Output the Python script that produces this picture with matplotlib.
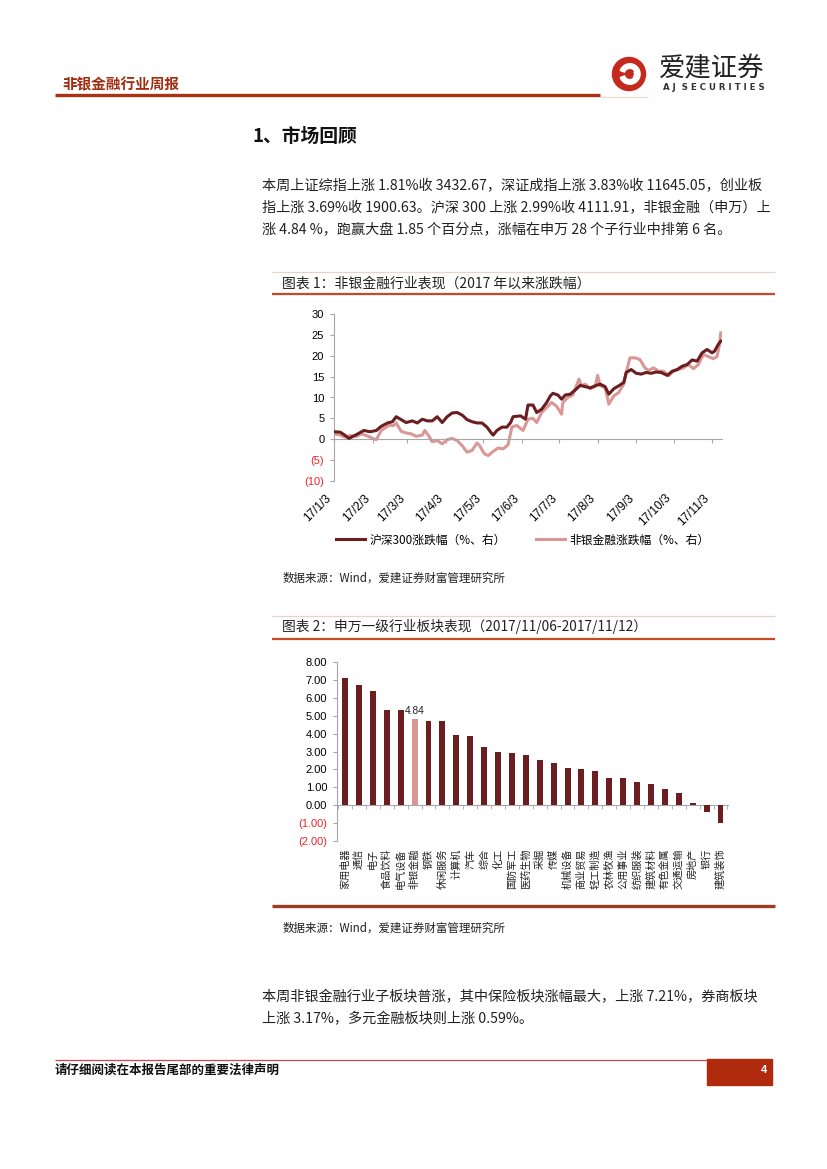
# 非银金融行业周报 - 第4页 复刻
import pandas as pd
import numpy as np
import matplotlib
matplotlib.use("Agg")
import matplotlib.pyplot as plt
from matplotlib.lines import Line2D
from matplotlib.patches import Rectangle, Circle, Wedge

plt.rcParams['font.family'] = ['Noto Sans CJK SC', 'DejaVu Sans']
plt.rcParams['axes.unicode_minus'] = False

W, H = 827, 1169

# ---------------- 数据 ----------------
# 图表1: 2017年以来涨跌幅 (距 2017-01-03 的天数, 数值%)
hs300_days = [0, 5, 9, 12, 18, 24, 29, 34, 38, 43, 47, 50, 54, 58, 63, 67, 71, 75, 79, 83,
              87, 91, 95, 99, 103, 107, 111, 115, 119, 123, 127, 128, 131, 135, 139, 142, 144,
              150, 154, 156, 160, 163, 167, 171, 174, 176, 180, 183, 186, 190, 194, 198, 202,
              206, 210, 214, 218, 221, 225, 229, 233, 235, 239, 243, 247, 251, 255, 259, 263,
              268, 272, 276, 280, 284, 288, 292, 296, 300, 304, 306, 309, 311]
hs300_vals = [1.8, 1.7, 0.9, 0.2, 1.1, 2.1, 1.8, 2.1, 3.1, 3.9, 4.2, 5.4, 4.7, 4.0, 4.4, 3.9,
              4.8, 4.4, 4.4, 5.4, 4.0, 5.4, 6.3, 6.4, 5.8, 4.7, 4.2, 3.9, 3.9, 2.9, 1.3, 1.0,
              2.1, 2.9, 2.9, 4.0, 5.4, 5.6, 4.8, 8.2, 8.2, 6.4, 7.2, 8.8, 10.4, 11.0, 10.6, 9.6,
              10.6, 10.8, 11.8, 12.9, 12.6, 12.3, 12.8, 13.2, 12.6, 10.8, 12.1, 12.8, 13.6,
              16.0, 16.7, 15.8, 15.6, 16.0, 15.8, 16.1, 16.0, 15.3, 16.3, 16.7, 17.5, 17.9,
              19.0, 18.7, 20.7, 21.5, 20.7, 21.1, 22.7, 23.5]

fin_days = [0, 5, 9, 13, 18, 22, 26, 32, 34, 38, 44, 48, 50, 54, 58, 62, 66, 71, 73, 76, 79,
            83, 87, 91, 95, 99, 103, 107, 111, 115, 117, 121, 124, 128, 132, 136, 140, 143,
            147, 152, 156, 160, 163, 167, 171, 175, 179, 183, 184, 188, 192, 197, 199, 202,
            206, 210, 212, 214, 218, 221, 225, 229, 233, 235, 238, 242, 246, 250, 253, 257,
            261, 265, 269, 273, 277, 281, 285, 289, 293, 297, 301, 305, 308, 310, 311]
fin_vals = [1.3, 1.0, 0.5, 0.9, 0.7, 1.3, 0.9, 0.1, -0.1, 2.1, 3.3, 3.3, 3.9, 1.9, 1.5, 1.3,
            0.7, 1.0, 2.1, 0.9, -0.6, -0.3, -1.1, -0.1, 0.2, -0.3, -1.5, -3.1, -2.7, -0.9,
            -1.5, -3.5, -3.9, -2.9, -2.1, -2.3, -1.3, 2.9, 3.3, 2.1, 4.8, 5.0, 4.0, 6.4, 7.6,
            8.8, 7.9, 6.0, 8.8, 10.0, 10.6, 14.4, 12.8, 13.2, 12.1, 12.6, 15.3, 12.8, 12.4,
            8.4, 10.4, 11.2, 13.2, 16.0, 19.5, 19.5, 19.1, 17.1, 16.5, 17.1, 16.3, 16.3, 15.2,
            16.3, 16.7, 17.1, 17.9, 16.9, 17.9, 20.3, 19.8, 19.3, 19.8, 22.7, 25.5]

month_ticks = ['2017-01-03', '2017-02-03', '2017-03-03', '2017-04-03', '2017-05-03', '2017-06-03',
               '2017-07-03', '2017-08-03', '2017-09-03', '2017-10-03', '2017-11-03']
month_labels = ['17/1/3', '17/2/3', '17/3/3', '17/4/3', '17/5/3', '17/6/3',
                '17/7/3', '17/8/3', '17/9/3', '17/10/3', '17/11/3']

# 图表2: 申万一级行业涨跌幅 (%)
industries = ['家用电器', '通信', '电子', '食品饮料', '电气设备', '非银金融', '钢铁', '休闲服务',
              '计算机', '汽车', '综合', '化工', '国防军工', '医药生物', '采掘', '传媒',
              '机械设备', '商业贸易', '轻工制造', '农林牧渔', '公用事业', '纺织服装', '建筑材料',
              '有色金属', '交通运输', '房地产', '银行', '建筑装饰']
ind_chg = [7.12, 6.70, 6.38, 5.32, 5.31, 4.84, 4.70, 4.70, 3.94, 3.87, 3.26, 2.98, 2.94, 2.81,
           2.50, 2.33, 2.07, 2.04, 1.89, 1.50, 1.50, 1.28, 1.20, 0.93, 0.67, 0.11, -0.37, -1.02]

DARK = '#6b1d1f'
PINK = '#d99896'
NEG_RED = '#e8262a'
GRID_GRAY = '#a6a6a6'


def fx(x):
    return x / W


def fy(y):
    return 1 - y / H


def rect(l, t, r, b):
    return [l / W, 1 - b / H, (r - l) / W, (b - t) / H]


def hline(fig, x0, x1, y, color, lw):
    fig.add_artist(Line2D([fx(x0), fx(x1)], [fy(y), fy(y)], transform=fig.transFigure,
                          color=color, lw=lw, solid_capstyle='butt'))


def ftext(fig, x, y, s, **kw):
    kw.setdefault('va', 'center')
    kw.setdefault('ha', 'left')
    fig.text(fx(x), fy(y), s, **kw)


fig = plt.figure(figsize=(W / 100, H / 100), dpi=100)
fig.patch.set_facecolor('white')

# ---------------- 页眉 ----------------
ftext(fig, 62, 84, '非银金融行业周报', fontsize=10.5, fontweight='bold', color='#a12c10')
hline(fig, 55, 600, 95, '#a83212', 2.4)
hline(fig, 600, 648, 96.5, '#ecd6d0', 0.8)

# logo
lax = fig.add_axes(rect(610, 54, 648, 94))
lax.set_xlim(-1.15, 1.15)
lax.set_ylim(-1.15, 1.15)
lax.set_aspect('equal')
lax.axis('off')
lax.add_patch(Circle((0, 0), 1.0, color='#c5281c'))
lax.add_patch(Wedge((0.05, 0.0), 0.62, 200, 520, width=0.28, color='white'))
lax.add_patch(Rectangle((-0.05, -0.12), 0.62, 0.24, color='white'))
lax.add_patch(Circle((0.05, 0.0), 0.2, color='#c5281c'))
ftext(fig, 659, 69, '爱建证券', fontsize=19, color='#222222')
ftext(fig, 663, 87, 'A J  S E C U R I T I E S', fontsize=6.2, fontweight='bold',
      color='#333333', family=['DejaVu Sans'])

# ---------------- 正文 ----------------
ftext(fig, 252, 136, '1、市场回顾', fontsize=13.5, fontweight='bold', color='#111111')
body1 = ['本周上证综指上涨 1.81%收 3432.67，深证成指上涨 3.83%收 11645.05，创业板',
         '指上涨 3.69%收 1900.63。沪深 300 上涨 2.99%收 4111.91，非银金融（申万）上',
         '涨 4.84 %，跑赢大盘 1.85 个百分点，涨幅在申万 28 个子行业中排第 6 名。']
for i, s in enumerate(body1):
    ftext(fig, 262, 186 + i * 22, s, fontsize=10.2, color='#222222')

# ---------------- 图表1 ----------------
hline(fig, 272, 775, 272, '#e8d2cc', 0.9)
ftext(fig, 282, 284, '图表 1：非银金融行业表现（2017 年以来涨跌幅）', fontsize=10, color='#222222')
hline(fig, 272, 775, 294, '#c74a22', 1.6)

t0 = pd.Timestamp('2017-01-03')
hs_dates = t0 + pd.to_timedelta(hs300_days, unit='D')
fin_dates = t0 + pd.to_timedelta(fin_days, unit='D')

ax1 = fig.add_axes(rect(334, 314, 722, 481))
ax1.spines['bottom'].set_position(('data', 0))
ax1.plot(hs_dates, hs300_vals, color=DARK, lw=2.2, label='沪深300涨跌幅（%、右）', zorder=3)
ax1.plot(fin_dates, fin_vals, color=PINK, lw=2.2, label='非银金融涨跌幅（%、右）', zorder=2)
ax1.set_xlim(t0, t0 + pd.Timedelta(days=312))
ax1.set_ylim(-10, 30)
yt1 = list(range(-10, 31, 5))
ax1.set_yticks(yt1)
ax1.set_yticklabels(['(%d)' % abs(v) if v < 0 else '%d' % v for v in yt1], fontsize=8,
                    family=['Liberation Sans'])
for lab, v in zip(ax1.get_yticklabels(), yt1):
    if v < 0:
        lab.set_color(NEG_RED)
ax1.set_xticks(pd.to_datetime(month_ticks))
ax1.set_xticklabels(month_labels, fontsize=8.6, family=['Liberation Sans'], rotation=45, ha='right')
for s in ['top', 'right']:
    ax1.spines[s].set_visible(False)
ax1.spines['bottom'].set_color(GRID_GRAY)
ax1.spines['left'].set_color(GRID_GRAY)
ax1.tick_params(axis='y', length=3, color=GRID_GRAY, pad=4)
ax1.tick_params(axis='x', length=3, color=GRID_GRAY, pad=35)

fig.legend(handles=ax1.get_lines(), loc='center', bbox_to_anchor=(fx(523), fy(540)), ncol=2,
           frameon=False, fontsize=8.5, handlelength=2.4, columnspacing=2.6, handletextpad=0.4)

ftext(fig, 283, 578, '数据来源：Wind，爱建证券财富管理研究所', fontsize=8.3, color='#222222')

# ---------------- 图表2 ----------------
hline(fig, 272, 775, 616, '#e8d2cc', 0.9)
ftext(fig, 282, 627, '图表 2：申万一级行业板块表现（2017/11/06-2017/11/12）', fontsize=9.9, color='#222222')
hline(fig, 272, 775, 639, '#c74a22', 1.6)

ax2 = fig.add_axes(rect(337, 662, 728, 841))
ax2.spines['bottom'].set_position(('data', 0))
x = np.arange(len(industries))
colors = [PINK if n == '非银金融' else DARK for n in industries]
ax2.bar(x, ind_chg, width=0.43, color=colors, zorder=3)
hi = industries.index('非银金融')
ax2.annotate('%.2f' % ind_chg[hi], (x[hi], ind_chg[hi]), xytext=(0, 1.5), textcoords='offset points',
             ha='center', va='bottom', fontsize=7.4, family=['Liberation Sans'], color='#222222')
ax2.set_xlim(-0.58, len(industries) - 0.46)
ax2.set_ylim(-2, 8)
yt2 = list(range(-2, 9))
ax2.set_yticks(yt2)
ax2.set_yticklabels(['(%.2f)' % abs(v) if v < 0 else '%.2f' % v for v in yt2], fontsize=8,
                    family=['Liberation Sans'])
for lab, v in zip(ax2.get_yticklabels(), yt2):
    if v < 0:
        lab.set_color(NEG_RED)
ax2.set_xticks(x)
ax2.set_xticklabels(industries, rotation=90, fontsize=7.3, color='#222222')
ax2.set_xticks(np.arange(-0.5, len(industries), 1.0), minor=True)
for s in ['top', 'right']:
    ax2.spines[s].set_visible(False)
ax2.spines['bottom'].set_color(GRID_GRAY)
ax2.spines['left'].set_color(GRID_GRAY)
ax2.tick_params(axis='y', length=3, color=GRID_GRAY, pad=4)
ax2.tick_params(axis='x', which='major', length=0, pad=31)
ax2.tick_params(axis='x', which='minor', length=3, color=GRID_GRAY)

hline(fig, 272, 775, 906, '#9e3a22', 2.4)
ftext(fig, 283, 928, '数据来源：Wind，爱建证券财富管理研究所', fontsize=8.3, color='#222222')

# ---------------- 正文2 ----------------
body2 = ['本周非银金融行业子板块普涨，其中保险板块涨幅最大，上涨 7.21%，券商板块',
         '上涨 3.17%，多元金融板块则上涨 0.59%。']
for i, s in enumerate(body2):
    ftext(fig, 262, 997 + i * 22, s, fontsize=10.2, color='#222222')

# ---------------- 页脚 ----------------
hline(fig, 55, 707, 1059.5, '#c9474a', 0.9)
fig.add_artist(Rectangle((fx(707), fy(1085)), (772 - 707) / W, 26 / H, transform=fig.transFigure,
                         color='#b02b0d'))
ftext(fig, 764, 1070, '4', fontsize=8, fontweight='bold', color='white', ha='center',
      family=['Liberation Sans'])
ftext(fig, 55, 1070, '请仔细阅读在本报告尾部的重要法律声明', fontsize=9, fontweight='bold', color='#111111')

fig.savefig('out.png', dpi=100, facecolor='white')
